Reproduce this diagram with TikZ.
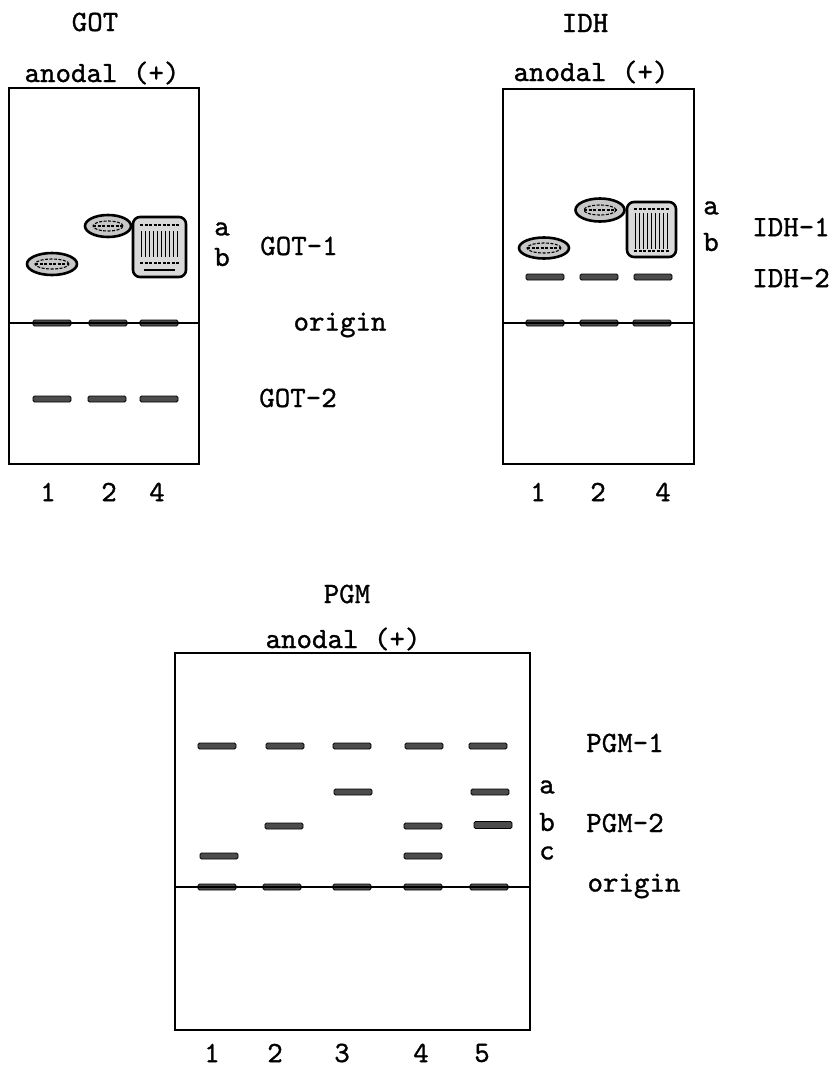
\documentclass[tikz,border=0pt]{standalone}
\usepackage{fontspec}
\setmonofont{lmmono10-regular.otf}[FakeBold=1.0]
\usetikzlibrary{shapes.geometric}
\begin{document}
\begin{tikzpicture}[x=1pt,y=-1pt,
  lbl/.style={font=\fontsize{29.5}{30}\selectfont\ttfamily, inner sep=0pt},
  gel/.style={draw=black, line width=2pt, outer sep=0pt, inner sep=0pt},
  band/.style={draw=black, fill=black!70, rounded corners=1.5pt, line width=0.9pt,
    minimum width=38pt, minimum height=6pt, inner sep=0pt},
  blob/.style={draw=black, fill=black!22, line width=2.6pt, ellipse, inner sep=0pt},
  sq/.style={draw=black, fill=black!15, line width=2.6pt, rounded corners=7pt, inner sep=0pt},
  tex/.style={line width=1.1pt, dash pattern=on 3pt off 1.5pt},
  hatch/.style={line width=1.4pt},
  originline/.style={line width=1.6pt}
  ]
\useasboundingbox (0,0) rectangle (833,1072);

% ================= GOT =================
\node[lbl] (got-t) at (95,22) {GOT};
\node[lbl] (got-an) at (102,73) {anodal (+)};
\node[gel, minimum width=190pt, minimum height=376pt] (gotbox) at (104,276) {};
% origin bands
\node[band] (g-o1) at (52,323) {};
\node[band] (g-o2) at (108,323) {};
\node[band] (g-o4) at (159,323) {};
\draw[originline] (gotbox.west |- g-o1) -- (gotbox.east |- g-o1);
% GOT-2 bands
\node[band] (g-21) at (52,399) {};
\node[band] (g-22) at (107,399) {};
\node[band] (g-24) at (159,399) {};
% GOT-1 blobs
\node[blob, minimum width=50pt, minimum height=22pt] (g-e1) at (52,264) {};
\draw[tex] (g-e1.center) ellipse (17pt and 5pt);
\draw[tex] (35,264) -- (69,264);
\node[blob, minimum width=46pt, minimum height=22pt] (g-e2) at (108,226) {};
\draw[tex] (g-e2.center) ellipse (15pt and 5pt);
\draw[tex] (93,226) -- (123,226);
\node[sq, minimum width=53pt, minimum height=60pt] (g-s4) at (159.5,247) {};
\draw[tex] (140,225) -- (179,225);
\foreach \dx in {-18,-14,...,18} \draw[hatch] (159.5+\dx,231) -- (159.5+\dx,257);
\draw[tex] (140,263) -- (179,263);
\draw[line width=2.5pt] (144,270) -- (175,270);
% labels
\node[lbl] (g-a) at (222,229) {a};
\node[lbl] (g-b) at (222,257) {b};
\node[lbl] (got1) at (299,246) {GOT-1};
\node[lbl] (g-orig) at (340,325) {origin};
\node[lbl] (got2) at (298,398) {GOT-2};
\node[lbl] (g-n1) at (48,492) {1};
\node[lbl] (g-n2) at (109,492) {2};
\node[lbl] (g-n4) at (157,492) {4};

% ================= IDH =================
\node[lbl] (idh-t) at (585,23) {IDH};
\node[lbl] (idh-an) at (591,72) {anodal (+)};
\node[gel, minimum width=191pt, minimum height=375pt] (idhbox) at (598.5,276.5) {};
\node[band] (i-o1) at (545,323) {};
\node[band] (i-o2) at (599,323) {};
\node[band] (i-o4) at (652,323) {};
\draw[originline] (idhbox.west |- i-o1) -- (idhbox.east |- i-o1);
\node[band] (i-21) at (545,277) {};
\node[band] (i-22) at (599,277) {};
\node[band] (i-24) at (653,277) {};
\node[blob, minimum width=50pt, minimum height=21pt] (i-e1) at (544,248) {};
\draw[tex] (i-e1.center) ellipse (17pt and 5pt);
\draw[tex] (527,248) -- (561,248);
\node[blob, minimum width=49pt, minimum height=23pt] (i-e2) at (600,210) {};
\draw[tex] (i-e2.center) ellipse (16pt and 5pt);
\draw[tex] (584,210) -- (616,210);
\node[sq, minimum width=49pt, minimum height=55pt] (i-s4) at (651.5,229.5) {};
\draw[tex] (634,209) -- (669,209);
\foreach \dx in {-16,-12,...,16} \draw[hatch] (651.5+\dx,213) -- (651.5+\dx,249);
\draw[tex] (634,251) -- (669,251);
\node[lbl] (i-a) at (711,208) {a};
\node[lbl] (i-b) at (711,242) {b};
\node[lbl] (idh1) at (791,227) {IDH-1};
\node[lbl] (idh2) at (791,278) {IDH-2};
\node[lbl] (i-n1) at (538,492) {1};
\node[lbl] (i-n2) at (598,492) {2};
\node[lbl] (i-n4) at (663,492) {4};

% ================= PGM =================
\node[lbl] (pgm-t) at (347,594) {PGM};
\node[lbl] (pgm-an) at (343,639) {anodal (+)};
\node[gel, minimum width=355pt, minimum height=377pt] (pgmbox) at (352.5,841.5) {};
% PGM-1
\node[band] (p-11) at (217,746) {};
\node[band] (p-12) at (285,746) {};
\node[band] (p-13) at (352,746) {};
\node[band] (p-14) at (424,746) {};
\node[band] (p-15) at (488,746) {};
% a
\node[band] (p-a3) at (353,792) {};
\node[band] (p-a5) at (490,792) {};
% b
\node[band] (p-b2) at (284,826) {};
\node[band] (p-b4) at (423,826) {};
\node[band, minimum height=7pt] (p-b5) at (493,825) {};
% c
\node[band] (p-c1) at (219,856) {};
\node[band] (p-c4) at (423,856) {};
% origin
\node[band] (p-o1) at (217,887) {};
\node[band] (p-o2) at (282,887) {};
\node[band] (p-o3) at (352,887) {};
\node[band] (p-o4) at (423,887) {};
\node[band] (p-o5) at (489,887) {};
\draw[originline] (pgmbox.west |- p-o1) -- (pgmbox.east |- p-o1);
% labels
\node[lbl] (pgm1) at (625,743) {PGM-1};
\node[lbl] (p-a) at (547,787) {a};
\node[lbl] (p-b) at (547,822) {b};
\node[lbl] (pgm2) at (625,823) {PGM-2};
\node[lbl] (p-c) at (547,853) {c};
\node[lbl] (p-orig) at (634,886) {origin};
\node[lbl] (p-n1) at (212,1053) {1};
\node[lbl] (p-n2) at (275,1053) {2};
\node[lbl] (p-n3) at (342,1053) {3};
\node[lbl] (p-n4) at (421,1053) {4};
\node[lbl] (p-n5) at (482,1053) {5};
\end{tikzpicture}
\end{document}
